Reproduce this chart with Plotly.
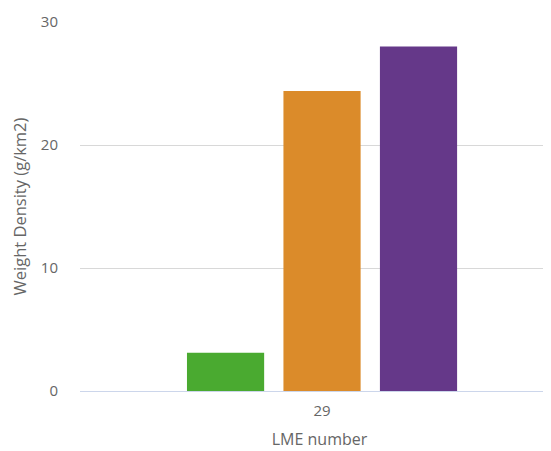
import plotly.graph_objects as go

categories = ["29"]
series_names = ["Series A", "Series B", "Series C"]
series_values = [[3.1], [24.4], [28.0]]
series_colors = ["#4aaa30", "#db8b2a", "#653889"]

fig = go.Figure()
for name, vals, col in zip(series_names, series_values, series_colors):
    fig.add_trace(go.Bar(x=categories, y=vals, name=name, marker_color=col,
                         marker_line_width=0))

font_family = "Open Sans"
fig.update_layout(
    width=551, height=451,
    margin=dict(l=72, r=0, t=14, b=68),
    plot_bgcolor="white", paper_bgcolor="white",
    barmode="group", bargap=0.2, bargroupgap=0.2,
    showlegend=False,
    font=dict(family=font_family, color="#666666", size=15),
)
fig.update_xaxes(
    type="category", range=[-0.669, 0.655],
    showgrid=False, showline=False, zeroline=False,
    ticks="outside", ticklen=6, tickcolor="rgba(0,0,0,0)",
    tickfont=dict(size=15, color="#666666"),
    title=dict(text="LME number", font=dict(size=16, color="#666666"), standoff=14),
)
fig.update_yaxes(
    range=[0, 30], tickvals=[0, 10, 20, 30],
    showgrid=True, gridcolor="#d8d8d8", gridwidth=1,
    zeroline=True, zerolinecolor="#ccd6eb", zerolinewidth=1,
    showline=False,
    ticks="outside", ticklen=18, tickcolor="rgba(0,0,0,0)",
    tickfont=dict(size=15, color="#666666"),
    title=dict(text="Weight Density (g/km2)", font=dict(size=16.5, color="#666666"), standoff=12),
)
fig.write_html("out.html")
